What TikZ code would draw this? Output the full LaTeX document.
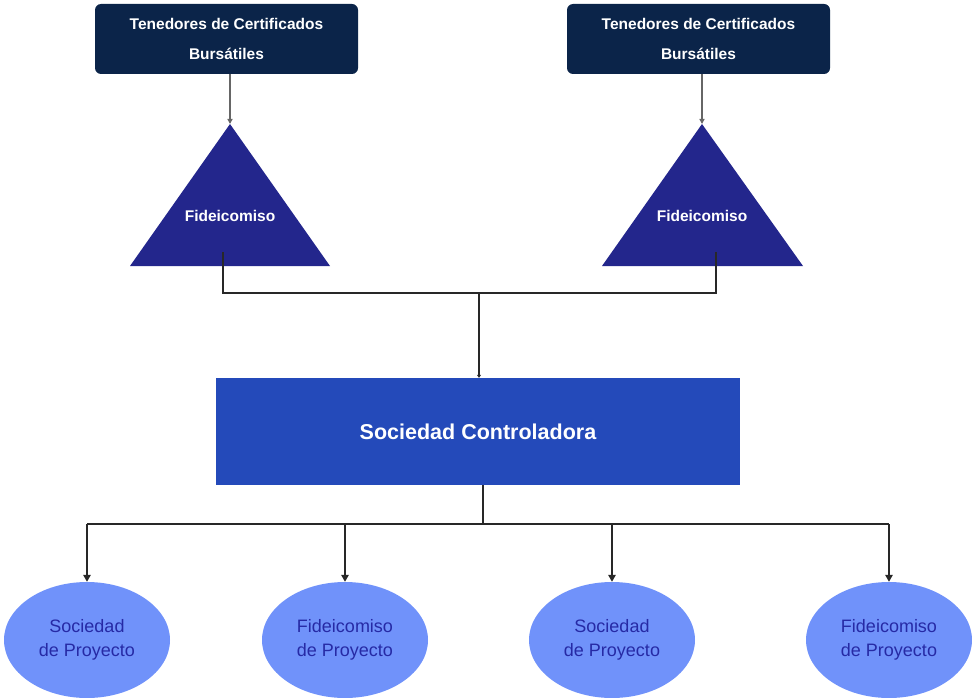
\documentclass[tikz,border=0pt]{standalone}
\usepackage{fontspec}
\setmainfont{Liberation Sans}
\usetikzlibrary{arrows.meta,shapes.geometric}
\definecolor{holdernavy}{RGB}{11,36,73}
\definecolor{trustblue}{RGB}{35,38,140}
\definecolor{ctrlblue}{RGB}{36,74,186}
\definecolor{projfill}{RGB}{112,146,250}
\definecolor{projtext}{RGB}{38,42,165}
\definecolor{linkgray}{RGB}{40,40,40}
\begin{document}
\begin{tikzpicture}[x=1pt,y=-1pt,
  holder/.style={draw=none,fill=holdernavy,rounded corners=6pt,minimum width=263pt,
    minimum height=70pt,inner sep=0pt,align=center,text=white,
    font={\fontsize{15.5}{30}\selectfont\bfseries}},
  trustshape/.style={fill=trustblue},
  trusttext/.style={text=white,inner sep=0pt,font={\fontsize{15.5}{18}\selectfont\bfseries}},
  ctrlbox/.style={fill=ctrlblue,minimum width=524pt,minimum height=107pt,inner sep=0pt,
    text=white,font={\fontsize{21.5}{24}\selectfont\bfseries}},
  project/.style={ellipse,fill=projfill,minimum width=166pt,minimum height=116pt,
    inner sep=0pt,align=center,text=projtext,font={\fontsize{18}{24}\selectfont}},
  link/.style={draw=linkgray,line width=1.4pt},
  feed/.style={draw=gray!80!black,line width=1.3pt,-{Triangle[length=5pt,width=5pt]}},
  down/.style={link,-{Triangle[length=7pt,width=7.5pt]}},
  tiny/.style={link,-{Triangle[length=3pt,width=4pt]}}]
\useasboundingbox (0,0) rectangle (972,698);

% certificate holders
\node[holder] (h1) at (226.5,39) {Tenedores de Certificados\\Bursátiles};
\node[holder] (h2) at (698.5,39) {Tenedores de Certificados\\Bursátiles};

% trust triangles
\fill[trustshape] (230,124) -- (330,266) -- (130,266) -- cycle;
\fill[trustshape] (702,124) -- (803,266) -- (602,266) -- cycle;
\coordinate (t1apex) at (230,124);
\coordinate (t2apex) at (702,124);
\node[trusttext] (f1) at (230,216) {Fideicomiso};
\node[trusttext] (f2) at (702,216) {Fideicomiso};

\draw[feed] (t1apex |- h1.south) -- (t1apex);
\draw[feed] (t2apex |- h2.south) -- (t2apex);

% holding company
\node[ctrlbox] (ctrl) at (478,431.5) {Sociedad Controladora};

% trusts joined into the holding company
\coordinate (t1foot) at (223,252);
\coordinate (t2foot) at (716,252);
\coordinate (join) at (479,293);
\draw[link] (t1foot) -- (t1foot |- join) -- (t2foot |- join) -- (t2foot);
\draw[tiny] (join) -- (join |- ctrl.north);

% project vehicles
\node[project] (p1) at (87,640) {Sociedad\\de Proyecto};
\node[project] (p2) at (345,640) {Fideicomiso\\de Proyecto};
\node[project] (p3) at (612,640) {Sociedad\\de Proyecto};
\node[project] (p4) at (889,640) {Fideicomiso\\de Proyecto};

\coordinate (split) at (483,524);
\draw[link] (split |- ctrl.south) -- (split);
\draw[link] (p1.north |- split) -- (p4.north |- split);
\foreach \p in {p1,p2,p3,p4}
  \draw[down] (\p.north |- split) -- (\p.north);
\end{tikzpicture}
\end{document}
